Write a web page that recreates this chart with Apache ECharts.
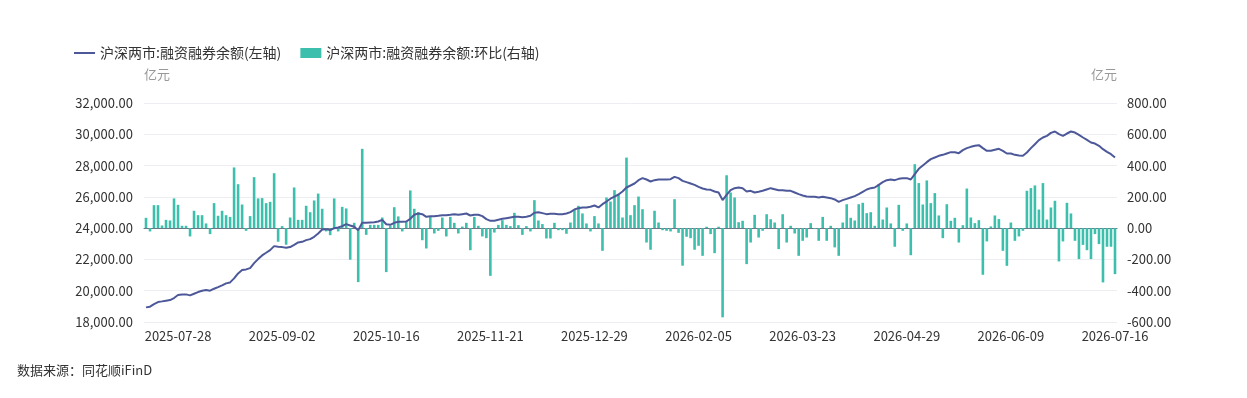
<!DOCTYPE html>
<html>
<head>
<meta charset="utf-8">
<script src="https://cdn.jsdelivr.net/npm/echarts@6/dist/echarts.min.js"></script>
<style>
  html, body { margin: 0; padding: 0; background: #fff; }
  #chart { width: 1247px; height: 398px; }
</style>
</head>
<body>
<div id="chart"></div>
<script>
// trading calendar: weekdays from 2025-07-16 to 2026-07-16, minus exchange holidays
const startDate = "2025-07-16";
const endDate = "2026-07-16";
const holidays = [
  "2025-10-01", "2025-10-02", "2025-10-03", "2025-10-06", "2025-10-07", "2025-10-08",
  "2026-01-01", "2026-01-02",
  "2026-02-16", "2026-02-17", "2026-02-18", "2026-02-19", "2026-02-20", "2026-02-23",
  "2026-04-06", "2026-05-01", "2026-05-04", "2026-05-05", "2026-06-19"
];

// 沪深两市:融资融券余额 (亿元, left axis)
const balance = [
  18935, 18978, 19148, 19276, 19318, 19361, 19404, 19531, 19723, 19765,
  19765, 19701, 19808, 19914, 19999, 20042, 19999, 20127, 20233, 20340,
  20468, 20531, 20787, 21106, 21319, 21361, 21446, 21766, 22021, 22255,
  22425, 22596, 22851, 22808, 22787, 22744, 22790, 22935, 23084, 23127,
  23233, 23297, 23446, 23659, 23915, 23936, 23872, 24000, 24043, 24128,
  24256, 24170, 24085, 23872, 24341, 24341, 24362, 24383, 24426, 24530,
  24250, 24213, 24341, 24405, 24405, 24426, 24596, 24852, 24937, 24895,
  24724, 24767, 24767, 24788, 24831, 24831, 24852, 24895, 24852, 24895,
  24937, 24809, 24852, 24852, 24767, 24575, 24469, 24469, 24533, 24596,
  24639, 24682, 24724, 24724, 24703, 24724, 24788, 24980, 25022, 24959,
  24895, 24916, 24916, 24895, 24895, 24937, 25022, 25193, 25278, 25321,
  25321, 25363, 25448, 25321, 25534, 25700, 25880, 26020, 26150, 26343,
  26599, 26726, 26854, 27067, 27195, 27110, 26982, 27067, 27110, 27110,
  27110, 27131, 27280, 27195, 27025, 26939, 26854, 26769, 26641, 26535,
  26471, 26450, 26343, 26279, 25789, 26130, 26428, 26556, 26599, 26556,
  26343, 26386, 26279, 26322, 26386, 26471, 26556, 26492, 26428, 26428,
  26386, 26386, 26279, 26173, 26087, 26024, 26002, 26002, 25960, 26002,
  25960, 25917, 25832, 25683, 25789, 25874, 25960, 26045, 26173, 26322,
  26471, 26556, 26599, 26769, 26939, 27067, 27110, 27067, 27152, 27195,
  27195, 27110, 27451, 27792, 28005, 28218, 28410, 28516, 28623, 28687,
  28772, 28857, 28857, 28793, 28985, 29113, 29198, 29262, 29304, 29113,
  28942, 28942, 29006, 29070, 28942, 28772, 28772, 28687, 28644, 28623,
  28836, 29113, 29368, 29624, 29794, 29900, 30092, 30177, 30007, 29900,
  30049, 30177, 30113, 29964, 29794, 29645, 29474, 29410, 29261, 29048,
  28878, 28729, 28516
];

// 沪深两市:融资融券余额:环比 (亿元, right axis)
const change = [
  66, -21, 147, 147, 17, 53, 49, 190, 149, 15,
  15, -53, 111, 83, 83, 30, -38, 160, 79, 111,
  83, 72, 388, 281, 151, -17, 77, 326, 190, 192,
  160, 168, 351, -87, 13, -106, 68, 260, 53, 53,
  143, 102, 177, 221, 124, -21, -45, 190, -21, 136,
  126, -202, 34, -345, 507, -43, 21, 21, 21, 68,
  -281, 15, 134, 75, -21, 43, 241, 124, 102, -77,
  -130, 77, -34, -17, 68, -53, 72, 34, -34, 10,
  34, -141, 72, 15, -53, -64, -305, -28, 21, 51,
  21, 13, 98, 19, -43, 13, -21, 179, 49, 26,
  -66, -66, 34, -13, -13, -36, 36, 115, 143, 94,
  30, -21, 77, 30, -145, 196, 170, 243, 217, 68,
  451, 83, 147, 202, 121, -92, -138, 111, 36, -13,
  -17, -21, 185, -30, -240, -55, -64, -138, -113, -177,
  9, -38, -160, 9, -570, 338, 228, 196, 38, 47,
  -230, -92, 85, -60, -17, 89, 57, 36, -134, 89,
  -92, 15, -34, -177, -81, -60, 32, -6, -81, 72,
  -81, 15, -123, -177, 36, 153, 66, 49, 153, 162,
  96, 102, 15, 281, 55, 132, 30, -119, 149, -17,
  30, -173, 409, 288, 151, 305, 160, 224, 81, -64,
  153, 47, 66, -92, 19, 253, 68, 32, 51, -298,
  -85, 11, 81, 58, -145, -241, 36, -81, -53, -17,
  239, 256, 273, 119, 288, 55, 132, 175, -213, -85,
  162, 94, -81, -198, -107, -141, -198, -38, -102, -347,
  -119, -119, -294
];

const leftTicks = { min: 18000, max: 32000, interval: 2000 };
const rightTicks = { min: -600, max: 800, interval: 200 };
const firstLabelIndex = 8;
const labelStep = 26;

function buildDates() {
  const out = [];
  const d = new Date(startDate + "T00:00:00Z");
  const end = new Date(endDate + "T00:00:00Z");
  while (d <= end) {
    const s = d.toISOString().slice(0, 10);
    const wd = d.getUTCDay();
    if (wd !== 0 && wd !== 6 && holidays.indexOf(s) < 0) out.push(s);
    d.setUTCDate(d.getUTCDate() + 1);
  }
  return out;
}
const dates = buildDates();

const lineColor = "#4d5899";
const barColor = "#3dbfae";
const font = "'Noto Sans CJK SC', 'Noto Sans', sans-serif";

const chart = echarts.init(document.getElementById("chart"), null, { renderer: "canvas" });
chart.setOption({
  animation: false,
  textStyle: { fontFamily: font },
  legend: {
    left: 69,
    top: 41,
    itemGap: 19,
    itemWidth: 21,
    itemHeight: 10,
    symbolKeepAspect: true,
    textStyle: { fontSize: 14, color: "#333", fontFamily: font },
    data: [
      // plain line icon, no marker
      { name: "沪深两市:融资融券余额(左轴)", icon: "path://M0,0L21,0L21,2L0,2Z" },
      { name: "沪深两市:融资融券余额:环比(右轴)", icon: "rect" }
    ]
  },
  grid: { left: 144, right: 130, top: 103, bottom: 76 },
  xAxis: {
    type: "category",
    data: dates,
    boundaryGap: true,
    axisLine: { lineStyle: { color: "#6e7383", width: 1 } },
    axisTick: { show: false },
    axisLabel: {
      color: "#333",
      fontSize: 13,
      margin: 8,
      interval: (idx) => idx >= firstLabelIndex && (idx - firstLabelIndex) % labelStep === 0
    }
  },
  yAxis: [
    {
      type: "value",
      name: "亿元",
      nameGap: 22,
      nameTextStyle: { color: "#999", fontSize: 13, align: "left" },
      min: leftTicks.min, max: leftTicks.max, interval: leftTicks.interval,
      axisLine: { show: false },
      axisTick: { show: false },
      axisLabel: {
        color: "#333", fontSize: 13, margin: 11,
        formatter: (v) => v.toLocaleString("en-US", { minimumFractionDigits: 2, maximumFractionDigits: 2 })
      },
      splitLine: { lineStyle: { color: "#eceef2" } }
    },
    {
      type: "value",
      name: "亿元",
      nameGap: 22,
      nameTextStyle: { color: "#999", fontSize: 13, align: "right" },
      position: "right",
      min: rightTicks.min, max: rightTicks.max, interval: rightTicks.interval,
      axisLine: { show: false },
      axisTick: { show: false },
      axisLabel: {
        color: "#333", fontSize: 13, margin: 10,
        formatter: (v) => v.toFixed(2)
      },
      splitLine: { show: false }
    }
  ],
  series: [
    {
      name: "沪深两市:融资融券余额:环比(右轴)",
      type: "bar",
      yAxisIndex: 1,
      data: change,
      barWidth: "65%",
      itemStyle: { color: barColor }
    },
    {
      name: "沪深两市:融资融券余额(左轴)",
      type: "line",
      yAxisIndex: 0,
      data: balance,
      symbol: "none",
      lineStyle: { color: lineColor, width: 2 },
      itemStyle: { color: lineColor },
      z: 5
    }
  ],
  graphic: [
    {
      type: "text",
      left: 17,
      top: 364,
      style: { text: "数据来源：同花顺iFinD", fill: "#333", fontSize: 13, fontFamily: font }
    }
  ]
});
</script>
</body>
</html>
